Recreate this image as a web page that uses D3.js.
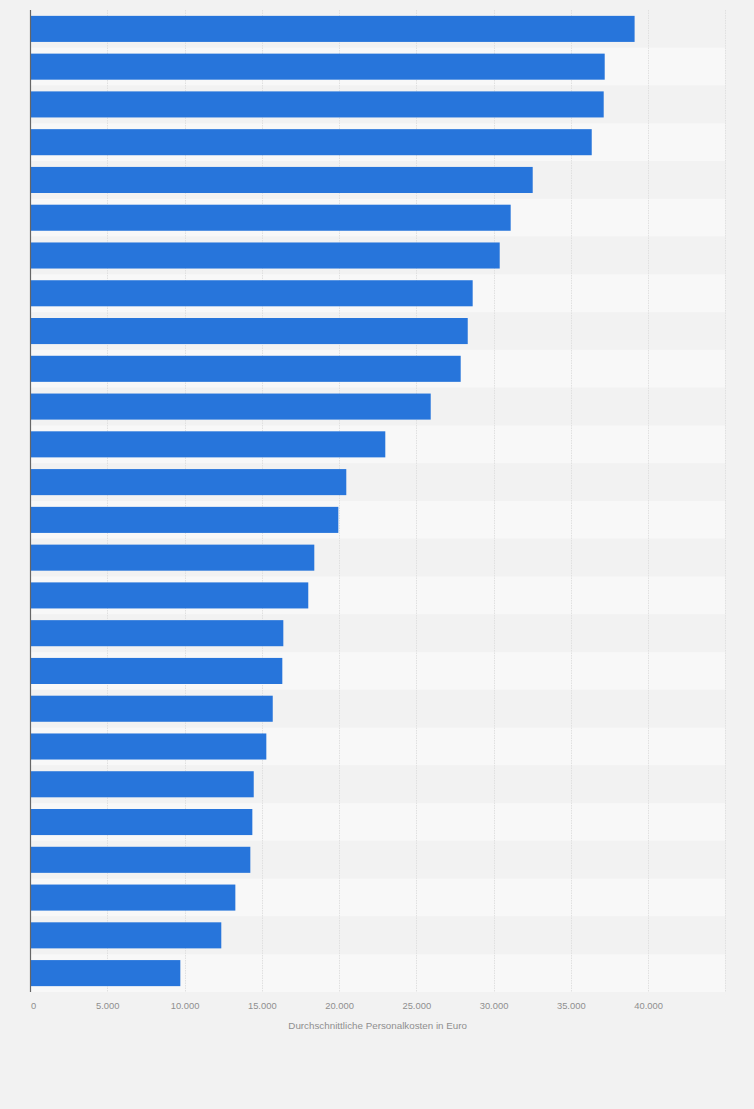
<!DOCTYPE html>
<html>
<head>
<meta charset="utf-8">
<script src="https://cdn.jsdelivr.net/npm/d3@7"></script>
<style>
  html, body { margin: 0; padding: 0; background: #f2f2f2; }
  svg { display: block; font-family: "Liberation Sans", Arial, sans-serif; }
</style>
</head>
<body>
<svg id="chart" width="754" height="1109"></svg>
<script>
// Categories (no labels are shown in the reference; bars are identified by rank)
const categories = ["1","2","3","4","5","6","7","8","9","10","11","12","13","14","15","16","17","18","19","20","21","22","23","24","25","26"];
// Average personnel costs in euro
const values = [39130, 37195, 37130, 36355, 32535, 31110, 30400, 28650, 28330, 27875, 25935, 22995, 20470, 19955, 18400, 18010, 16395, 16330, 15710, 15295, 14480, 14390, 14260, 13290, 12380, 9730];
const xTicks = [0, 5000, 10000, 15000, 20000, 25000, 30000, 35000, 40000];
const gridTicks = [5000, 10000, 15000, 20000, 25000, 30000, 35000, 40000, 45000];
const xMax = 45000;
const axisTitle = "Durchschnittliche Personalkosten in Euro";

(function () {
const data = categories.map((c, i) => ({ cat: c, value: values[i] }));

const svg = d3.select("#chart");
const pLeft = 30, pRight = 725.3, pTop = 10, pBottom = 992;

const x = d3.scaleLinear().domain([0, xMax]).range([pLeft, pRight]);
const y = d3.scaleBand().domain(categories).range([pTop, pBottom]).paddingInner(0.31).paddingOuter(0.155);
const step = y.step();

// alternating row bands
svg.append("g").selectAll("rect").data(categories).join("rect")
  .attr("x", pLeft)
  .attr("y", (d, i) => pTop + i * step)
  .attr("width", pRight - pLeft)
  .attr("height", step)
  .attr("fill", (d, i) => i % 2 === 0 ? "#f2f2f2" : "#f8f8f8");

// gridlines
svg.append("g").selectAll("line").data(gridTicks).join("line")
  .attr("x1", d => Math.round(x(d)) + 0.5)
  .attr("x2", d => Math.round(x(d)) + 0.5)
  .attr("y1", pTop)
  .attr("y2", pBottom)
  .attr("stroke", "#e0e0e0")
  .attr("stroke-width", 1)
  .attr("stroke-dasharray", "1.5,1");

// bars
svg.append("g").selectAll("rect").data(data).join("rect")
  .attr("x", x(0))
  .attr("y", d => y(d.cat))
  .attr("width", d => x(d.value) - x(0))
  .attr("height", y.bandwidth())
  .attr("fill", "#2775db");

// x axis labels
const fmt = d3.formatLocale({ decimal: ",", thousands: ".", grouping: [3], currency: ["", " €"] }).format(",.0f");
const xAxis = d3.axisBottom(x).tickValues(xTicks).tickFormat(fmt).tickSize(0).tickPadding(0);
const gx = svg.append("g").attr("transform", `translate(0, ${pBottom + 10})`).call(xAxis);
gx.select(".domain").remove();
gx.selectAll("text")
  .attr("fill", "#8f8f8f")
  .attr("font-size", "9.4px")
  .attr("font-family", "'Liberation Sans', Arial, sans-serif")
  .attr("dy", "0.71em")
  .attr("dx", d => d === 0 ? 3 : 0);

// y axis line
svg.append("line")
  .attr("x1", pLeft + 0.5).attr("x2", pLeft + 0.5)
  .attr("y1", pTop).attr("y2", pBottom)
  .attr("stroke", "#666").attr("stroke-width", 1.2);

// axis title
svg.append("text")
  .attr("x", (pLeft + pRight) / 2)
  .attr("y", 1029)
  .attr("text-anchor", "middle")
  .attr("fill", "#8f8f8f")
  .attr("font-size", "9.8px")
  .text(axisTitle);
})();
</script>
</body>
</html>
